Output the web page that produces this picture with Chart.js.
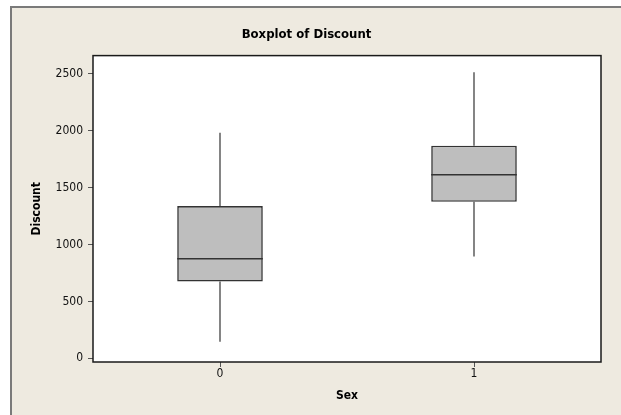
<!DOCTYPE html>
<html>
<head>
<meta charset="utf-8">
<script src="https://cdn.jsdelivr.net/npm/chart.js@4.4.0/dist/chart.umd.min.js"></script>
<style>
  html, body { margin: 0; padding: 0; background: #ffffff; overflow: hidden; }
  #box-chart { display: block; }
</style>
</head>
<body>
<canvas id="box-chart" width="621" height="415"></canvas>
<script>
    // Categorias (Sex) e estatísticas
    const categories = [0, 1];
    const whiskerLow = [146, 894];
    const q1 = [674, 1376];
    const medians = [874, 1614];
    const q3 = [1338, 1869];
    const whiskerHigh = [1983, 2514];
    const yTicks = [0, 500, 1000, 1500, 2000, 2500];

    const fonte = "'DejaVu Sans Condensed', 'DejaVu Sans', Tahoma, sans-serif";

    // Caixas Q1-Q3 como barras flutuantes
    const boxData = categories.map((c, i) => ({ x: c, y: [q1[i], q3[i]] }));

    // Bigodes: segmentos verticais separados por NaN
    const whiskerData = [];
    categories.forEach((c, i) => {
        whiskerData.push({ x: c, y: whiskerHigh[i] }, { x: c, y: q3[i] }, { x: c, y: NaN });
        whiskerData.push({ x: c, y: q1[i] }, { x: c, y: whiskerLow[i] }, { x: c, y: NaN });
    });

    // Fundo bege com moldura cinza (só esquerda e topo visíveis)
    const fundoPlugin = {
        id: 'fundo',
        beforeDraw(chart) {
            const ctx = chart.ctx;
            ctx.save();
            ctx.fillStyle = '#eeeae0';
            ctx.fillRect(10, 6, chart.width, chart.height);
            ctx.strokeStyle = '#7a7a7a';
            ctx.lineWidth = 2;
            ctx.beginPath();
            ctx.moveTo(11, chart.height);
            ctx.lineTo(11, 7);
            ctx.lineTo(chart.width, 7);
            ctx.stroke();
            ctx.restore();
        }
    };

    // Linha da mediana desenhada sobre cada caixa
    const medianPlugin = {
        id: 'medianLine',
        afterDatasetsDraw(chart) {
            const meta = chart.getDatasetMeta(1);
            const y = chart.scales.y;
            const ctx = chart.ctx;
            ctx.save();
            ctx.strokeStyle = '#333333';
            ctx.lineWidth = 1.5;
            meta.data.forEach((bar, i) => {
                const py = y.getPixelForValue(medians[i]);
                ctx.beginPath();
                ctx.moveTo(bar.x - bar.width / 2, py);
                ctx.lineTo(bar.x + bar.width / 2, py);
                ctx.stroke();
            });
            ctx.restore();
        }
    };

    // Moldura da área do gráfico
    const areaPlugin = {
        id: 'areaFrame',
        beforeDatasetsDraw(chart) {
            const a = chart.chartArea;
            const ctx = chart.ctx;
            ctx.save();
            ctx.fillStyle = '#ffffff';
            ctx.fillRect(a.left, a.top, a.width, a.height);
            ctx.restore();
        },
        afterDraw(chart) {
            const a = chart.chartArea;
            const ctx = chart.ctx;
            ctx.save();
            ctx.strokeStyle = '#1a1a1a';
            ctx.lineWidth = 1.5;
            ctx.strokeRect(a.left, a.top, a.width, a.height);
            ctx.restore();
        }
    };

    new Chart(document.getElementById('box-chart'), {
        type: 'bar',
        data: {
            datasets: [{
                type: 'line',
                data: whiskerData,
                borderColor: '#333333',
                borderWidth: 1.2,
                pointRadius: 0,
                spanGaps: false,
                order: 2
            }, {
                type: 'bar',
                data: boxData,
                backgroundColor: '#bebebe',
                borderColor: '#333333',
                borderWidth: 1.6,
                borderSkipped: false,
                barPercentage: 0.337,
                categoryPercentage: 1,
                order: 1
            }]
        },
        options: {
            responsive: false,
            animation: false,
            layout: { padding: { left: 12, right: 20, top: 0, bottom: 0 } },
            plugins: {
                legend: { display: false },
                tooltip: { enabled: false },
                title: {
                    display: true,
                    text: 'Boxplot of Discount',
                    color: '#000000',
                    font: { family: fonte, size: 13, weight: 'bold' },
                    padding: { top: 27, bottom: 13 }
                }
            },
            scales: {
                x: {
                    type: 'linear',
                    min: -0.5,
                    max: 1.5,
                    offset: false,
                    afterBuildTicks: (s) => { s.ticks = categories.map(v => ({ value: v })); },
                    afterFit: (s) => { s.height = 53; },
                    grid: { display: true, offset: false, drawOnChartArea: false, drawTicks: true, tickLength: 5, color: '#555555' },
                    border: { display: false },
                    ticks: { color: '#111111', padding: 0, font: { family: fonte, size: 12 }, callback: (v) => String(v) },
                    title: {
                        display: true, text: 'Sex', color: '#000000',
                        font: { family: fonte, size: 12, weight: 'bold' },
                        padding: { top: 0, bottom: 12 }
                    }
                },
                y: {
                    min: -33,
                    max: 2661,
                    afterBuildTicks: (s) => { s.ticks = yTicks.map(v => ({ value: v })); },
                    afterFit: (s) => { s.width = 81; },
                    grid: { display: true, drawOnChartArea: false, drawTicks: true, tickLength: 5, color: '#555555' },
                    border: { display: false },
                    ticks: { color: '#111111', padding: 5, font: { family: fonte, size: 12 }, callback: (v) => String(v) },
                    title: {
                        display: true, text: 'Discount', color: '#000000',
                        font: { family: fonte, size: 12, weight: 'bold' },
                        padding: { top: 18, bottom: 0 }
                    }
                }
            }
        },
        plugins: [fundoPlugin, areaPlugin, medianPlugin]
    });
</script>
</body>
</html>
